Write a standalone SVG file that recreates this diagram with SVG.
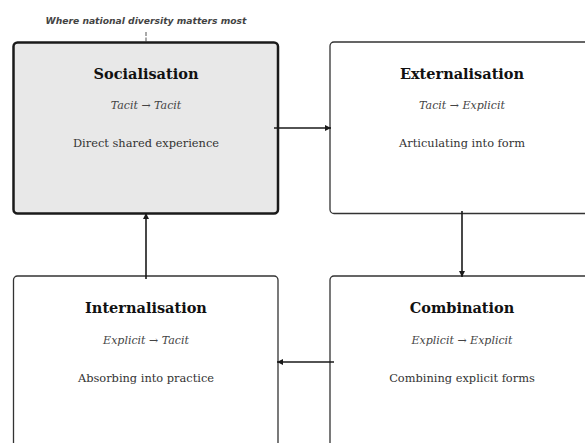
<svg xmlns="http://www.w3.org/2000/svg" width="585" height="443" viewBox="0 0 585 443">
<defs>
<marker id="ah" viewBox="0 0 6 6" refX="6" refY="3" markerWidth="6" markerHeight="6" markerUnits="userSpaceOnUse" orient="auto">
<path d="M0,0 L6,3 L0,6 z" fill="#1a1a1a"/>
</marker>
</defs>
<style>
.box{fill:#ffffff;stroke:#333333;stroke-width:1.3}
.hl{fill:#e8e8e8;stroke:#1a1a1a;stroke-width:2.5}
.t{font-family:"DejaVu Serif",serif;font-weight:bold;font-size:14.5px;fill:#111111;text-anchor:middle}
.s{font-family:"DejaVu Serif",serif;font-style:italic;font-size:11px;fill:#444444;text-anchor:middle}
.d{font-family:"DejaVu Serif",serif;font-size:11.4px;fill:#333333;text-anchor:middle}
.n{font-family:"DejaVu Sans",sans-serif;font-style:italic;font-weight:bold;font-size:9.2px;fill:#444444;text-anchor:middle}
.c{fill:none;stroke:#1a1a1a;stroke-width:1.6;marker-end:url(#ah)}
</style>
<rect width="585" height="443" fill="#ffffff"/>
<g id="note">
<text class="n" x="146" y="24">Where national diversity matters most</text>
<line x1="146" y1="32" x2="146" y2="43" stroke="#555555" stroke-width="1" stroke-dasharray="4,1.5"/>
</g>
<g id="socialisation">
<rect class="hl" x="13.5" y="42.5" width="264.5" height="171" rx="4"/>
<text class="t" x="146" y="79">Socialisation</text>
<text class="s" x="146" y="109">Tacit → Tacit</text>
<text class="d" x="146" y="147">Direct shared experience</text>
</g>
<g id="externalisation">
<rect class="box" x="330" y="42" width="265" height="171.5" rx="4"/>
<text class="t" x="462" y="79">Externalisation</text>
<text class="s" x="462" y="109">Tacit → Explicit</text>
<text class="d" x="462" y="147">Articulating into form</text>
</g>
<g id="internalisation">
<rect class="box" x="13.5" y="276" width="264.5" height="180" rx="4"/>
<text class="t" x="146" y="313">Internalisation</text>
<text class="s" x="146" y="344">Explicit → Tacit</text>
<text class="d" x="146" y="382">Absorbing into practice</text>
</g>
<g id="combination">
<rect class="box" x="330" y="276" width="265" height="180" rx="4"/>
<text class="t" x="462" y="313">Combination</text>
<text class="s" x="462" y="344">Explicit → Explicit</text>
<text class="d" x="462" y="382">Combining explicit forms</text>
</g>
<g id="connectors">
<line class="c" x1="274" y1="128" x2="331" y2="128"/>
<line class="c" x1="462" y1="211" x2="462" y2="277"/>
<line class="c" x1="334" y1="362" x2="277" y2="362"/>
<line class="c" x1="146" y1="279" x2="146" y2="213"/>
</g>
</svg>
